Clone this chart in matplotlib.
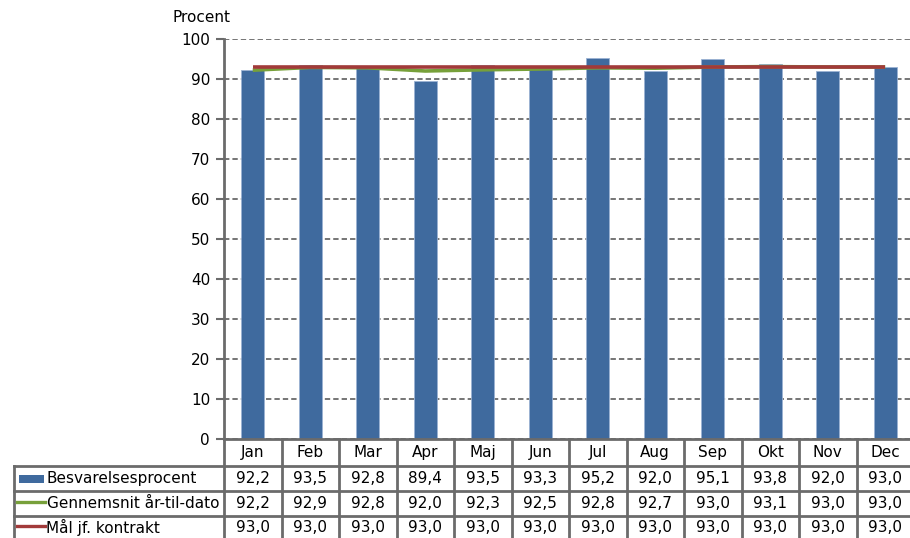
import matplotlib
matplotlib.use("Agg")
import matplotlib.pyplot as plt
from matplotlib.lines import Line2D
from matplotlib.patches import Rectangle
from matplotlib.transforms import blended_transform_factory

# Data
months = ["Jan", "Feb", "Mar", "Apr", "Maj", "Jun", "Jul", "Aug", "Sep", "Okt", "Nov", "Dec"]
besvarelse = [92.2, 93.5, 92.8, 89.4, 93.5, 93.3, 95.2, 92.0, 95.1, 93.8, 92.0, 93.0]
gennemsnit = [92.2, 92.9, 92.8, 92.0, 92.3, 92.5, 92.8, 92.7, 93.0, 93.1, 93.0, 93.0]
maal = [93.0] * 12
series_names = ["Besvarelsesprocent", "Gennemsnit år-til-dato", "Mål jf. kontrakt"]
y_ticks = list(range(0, 101, 10))

BAR_COLOR = "#3F6A9E"
GREEN = "#77A03A"
RED = "#A23A3A"
BORDER = "#6B6B6B"
FS = 11

plt.rcParams["font.family"] = ["DejaVu Sans"]
W, H = 910, 538
fig = plt.figure(figsize=(W / 100, H / 100), dpi=100)

def fy(px):
    return 1 - px / H

ax = fig.add_axes([224 / W, fy(439), 690 / W, 400 / H])
x = list(range(len(months)))
ax.set_xlim(-0.5, len(months) - 0.5)
ax.set_ylim(0, 100)

ax.bar(x, besvarelse, width=0.4, color=BAR_COLOR, edgecolor="#9BB2D3",
       linewidth=0.6, zorder=3)
ax.plot(x, gennemsnit, color=GREEN, linewidth=2.6, zorder=4, solid_capstyle="butt")
ax.plot(x, maal, color=RED, linewidth=2.6, zorder=5, solid_capstyle="butt")

ax.set_yticks(y_ticks)
ax.yaxis.grid(True, linestyle=(0, (3.5, 2)), color="#505050", linewidth=1.1, zorder=1)
ax.set_axisbelow(True)
ax.set_xticks([])
for s in ["top", "right", "bottom"]:
    ax.spines[s].set_visible(False)
ax.spines["left"].set_color(BORDER)
ax.spines["left"].set_linewidth(2)
ax.tick_params(axis="y", direction="out", length=6, width=1.5, color=BORDER,
               labelsize=FS, pad=4)

fig.text(202 / W, fy(18), "Procent", ha="center", va="center", fontsize=FS)

# Data table below the plot area
tr = blended_transform_factory(ax.transData, fig.transFigure)
ftr = fig.transFigure
lw = 2

def hline(y_px, x0_px, x1_px):
    fig.add_artist(Line2D([x0_px / W, x1_px / W], [fy(y_px), fy(y_px)],
                          transform=ftr, color=BORDER, linewidth=lw))

def vline_data(xd, y0_px, y1_px):
    fig.add_artist(Line2D([xd, xd], [fy(y0_px), fy(y1_px)], transform=tr,
                          color=BORDER, linewidth=lw))

hline(439, 224, W)
for y_px in (466, 491, 516):
    hline(y_px, 14, W)
fig.add_artist(Line2D([14 / W, 14 / W], [fy(466), fy(H + 2)], transform=ftr,
                      color=BORDER, linewidth=lw))
for i in range(len(months) + 1):
    vline_data(i - 0.5, 439, H + 2)

row_centers = [478.5, 503.5, 527.5]
for i, m in enumerate(months):
    fig.text(i, fy(452.5), m, transform=tr, ha="center", va="center", fontsize=FS)
for row, vals in zip(row_centers, [besvarelse, gennemsnit, maal]):
    for i, v in enumerate(vals):
        fig.text(i, fy(row), f"{v:.1f}".replace(".", ","), transform=tr,
                 ha="center", va="center", fontsize=FS)

# Row labels with legend keys
fig.add_artist(Rectangle((19 / W, fy(482.5)), 25 / W, 8 / H, transform=ftr,
                         facecolor=BAR_COLOR, edgecolor="none"))
fig.add_artist(Line2D([17 / W, 45 / W], [fy(501.5), fy(501.5)], transform=ftr,
                      color=GREEN, linewidth=2.4))
fig.add_artist(Line2D([17 / W, 45 / W], [fy(526), fy(526)], transform=ftr,
                      color=RED, linewidth=2.4))
fig.text(46 / W, fy(row_centers[0]), series_names[0], ha="left", va="center", fontsize=FS)
fig.text(47 / W, fy(row_centers[1]), series_names[1], ha="left", va="center", fontsize=FS)
fig.text(46 / W, fy(row_centers[2]), series_names[2], ha="left", va="center", fontsize=FS)

fig.savefig("out.png", dpi=100)
